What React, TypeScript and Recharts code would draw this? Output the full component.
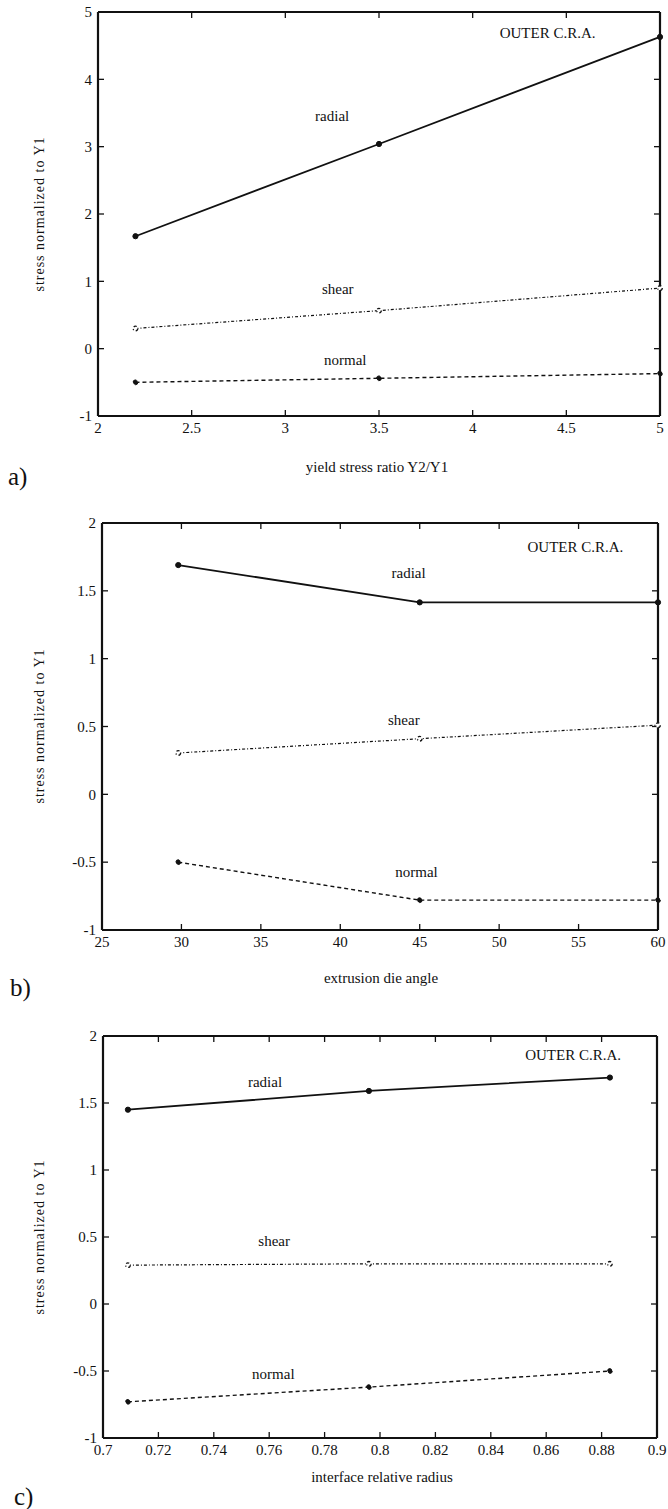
import { LineChart, Line, XAxis, YAxis, ReferenceDot } from "recharts";

// a) yield stress ratio
const yieldRatio = [2.2, 3.5, 5];
const radialA = [1.67, 3.04, 4.63];
const shearA = [0.3, 0.565, 0.9];
const normalA = [-0.5, -0.44, -0.37];

// b) die angle
const dieAngle = [29.8, 45, 60];
const radialB = [1.69, 1.415, 1.415];
const shearB = [0.305, 0.41, 0.51];
const normalB = [-0.5, -0.78, -0.78];

// c) interface radius
const relRadius = [0.709, 0.796, 0.883];
const radialC = [1.45, 1.59, 1.69];
const shearC = [0.29, 0.3, 0.3];
const normalC = [-0.73, -0.62, -0.5];

const xTicksA = [2, 2.5, 3, 3.5, 4, 4.5, 5];
const xTicksB = [25, 30, 35, 40, 45, 50, 55, 60];
const xTicksC = [0.7, 0.72, 0.74, 0.76, 0.78, 0.8, 0.82, 0.84, 0.86, 0.88, 0.9];
const yTicksA = [-1, 0, 1, 2, 3, 4, 5];
const yTicksBC = [-1, -0.5, 0, 0.5, 1, 1.5, 2];

const FONT = "'Liberation Serif', 'DejaVu Serif', serif";
const INK = "#111";

type Note = { text: string; x: number; y: number };

interface PanelProps {
  top: number;
  height: number;
  margin: { top: number; right: number; bottom: number; left: number };
  xs: number[];
  radial: number[];
  shear: number[];
  normal: number[];
  xDomain: [number, number];
  xTicks: number[];
  yDomain: [number, number];
  yTicks: number[];
  notes: Note[];
  xTitle: string;
  xTitlePos: [number, number];
  letter: string;
  letterPos: [number, number];
  yTitleY: number;
}

const NoteText = (text: string) => (p: any) => (
  <text
    x={p.cx}
    y={p.cy}
    textAnchor="middle"
    dominantBaseline="central"
    fontSize={15}
    fill={INK}
  >
    {text}
  </text>
);

const NoTick = () => <g />;

function Panel(props: PanelProps) {
  const data = props.xs.map((x, i) => ({
    x,
    radial: props.radial[i],
    shear: props.shear[i],
    normal: props.normal[i],
  }));
  const axisLine = { stroke: INK, strokeWidth: 2.2 };
  const tickLine = { stroke: INK, strokeWidth: 1.3 };
  const tickStyle = { fontSize: 15, fill: INK };
  return (
    <div
      style={{
        position: "absolute",
        left: 0,
        top: props.top,
        width: 668,
        height: props.height,
        fontFamily: FONT,
        color: INK,
      }}
    >
      <LineChart
        width={668}
        height={props.height}
        data={data}
        margin={props.margin}
        style={{ fontFamily: FONT }}
      >
        <XAxis
          xAxisId="b"
          dataKey="x"
          type="number"
          domain={props.xDomain}
          ticks={props.xTicks}
          height={30}
          tickSize={-6}
          tickMargin={12}
          axisLine={axisLine}
          tickLine={tickLine}
          tick={tickStyle}
          tickFormatter={(v: number) => String(v)}
        />
        {/* top frame with inward ticks */}
        <XAxis
          xAxisId="t"
          dataKey="x"
          orientation="top"
          type="number"
          domain={props.xDomain}
          ticks={props.xTicks}
          height={1}
          tickSize={-6}
          axisLine={axisLine}
          tickLine={tickLine}
          tick={NoTick}
        />
        <YAxis
          yAxisId="l"
          type="number"
          domain={props.yDomain}
          ticks={props.yTicks}
          width={50}
          tickSize={-6}
          tickMargin={12}
          axisLine={axisLine}
          tickLine={tickLine}
          tick={tickStyle}
          tickFormatter={(v: number) => String(v)}
        />
        {/* right frame with inward ticks */}
        <YAxis
          yAxisId="r"
          orientation="right"
          type="number"
          domain={props.yDomain}
          ticks={props.yTicks}
          width={1}
          tickSize={-6}
          axisLine={axisLine}
          tickLine={tickLine}
          tick={NoTick}
        />
        {/* invisible series so the top/right frame axes get drawn */}
        <Line
          xAxisId="t"
          yAxisId="r"
          dataKey="radial"
          stroke="none"
          dot={false}
          activeDot={false}
          isAnimationActive={false}
        />
        <Line
          xAxisId="b"
          yAxisId="l"
          dataKey="radial"
          stroke={INK}
          strokeWidth={1.8}
          dot={{ r: 2.6, fill: INK, stroke: INK, strokeWidth: 1 }}
          isAnimationActive={false}
        />
        <Line
          xAxisId="b"
          yAxisId="l"
          dataKey="shear"
          stroke={INK}
          strokeWidth={1.2}
          strokeDasharray="3 2 1 2"
          dot={{ r: 2.3, fill: "#fff", stroke: INK, strokeWidth: 1.3 }}
          isAnimationActive={false}
        />
        <Line
          xAxisId="b"
          yAxisId="l"
          dataKey="normal"
          stroke={INK}
          strokeWidth={1.4}
          strokeDasharray="4 3"
          dot={{ r: 2.4, fill: INK, stroke: INK, strokeWidth: 1 }}
          isAnimationActive={false}
        />
        {props.notes.map((n) => (
          <ReferenceDot
            key={n.text}
            xAxisId="b"
            yAxisId="l"
            x={n.x}
            y={n.y}
            r={0}
            ifOverflow="visible"
            shape={NoteText(n.text)}
          />
        ))}
      </LineChart>
      <div
        style={{
          position: "absolute",
          left: 40,
          top: props.yTitleY,
          transform: "translate(-50%, -50%) rotate(-90deg)",
          whiteSpace: "nowrap",
          fontSize: 14,
          letterSpacing: 1,
        }}
      >
        stress normalized to Y1
      </div>
      <div
        style={{
          position: "absolute",
          left: props.xTitlePos[0],
          top: props.xTitlePos[1],
          transform: "translate(-50%, -50%)",
          whiteSpace: "nowrap",
          fontSize: 15,
        }}
      >
        {props.xTitle}
      </div>
      <div
        style={{
          position: "absolute",
          left: props.letterPos[0],
          top: props.letterPos[1],
          transform: "translateY(-50%)",
          fontSize: 25,
        }}
      >
        {props.letter}
      </div>
    </div>
  );
}

export default function App() {
  return (
    <div style={{ position: "absolute", left: 0, top: 0, width: 668, height: 1509, background: "#fff", overflow: "hidden" }}>
      <Panel
        top={0}
        height={500}
        margin={{ top: 11, right: 7, bottom: 54, left: 48 }}
        xs={yieldRatio}
        radial={radialA}
        shear={shearA}
        normal={normalA}
        xDomain={[2, 5]}
        xTicks={xTicksA}
        yDomain={[-1, 5]}
        yTicks={yTicksA}
        notes={[
          { text: "OUTER C.R.A.", x: 4.4, y: 4.69 },
          { text: "radial", x: 3.25, y: 3.45 },
          { text: "shear", x: 3.28, y: 0.89 },
          { text: "normal", x: 3.32, y: -0.17 },
        ]}
        xTitle="yield stress ratio Y2/Y1"
        xTitlePos={[377, 467]}
        letter="a)"
        letterPos={[8, 477]}
        yTitleY={214}
      />
      <Panel
        top={500}
        height={500}
        margin={{ top: 22, right: 9, bottom: 40, left: 52 }}
        xs={dieAngle}
        radial={radialB}
        shear={shearB}
        normal={normalB}
        xDomain={[25, 60]}
        xTicks={xTicksB}
        yDomain={[-1, 2]}
        yTicks={yTicksBC}
        notes={[
          { text: "OUTER C.R.A.", x: 54.8, y: 1.825 },
          { text: "radial", x: 44.3, y: 1.63 },
          { text: "shear", x: 44.0, y: 0.55 },
          { text: "normal", x: 44.8, y: -0.57 },
        ]}
        xTitle="extrusion die angle"
        xTitlePos={[381, 478]}
        letter="b)"
        letterPos={[10, 488]}
        yTitleY={226}
      />
      <Panel
        top={1000}
        height={509}
        margin={{ top: 35, right: 10, bottom: 41, left: 53 }}
        xs={relRadius}
        radial={radialC}
        shear={shearC}
        normal={normalC}
        xDomain={[0.7, 0.9]}
        xTicks={xTicksC}
        yDomain={[-1, 2]}
        yTicks={yTicksBC}
        notes={[
          { text: "OUTER C.R.A.", x: 0.8697, y: 1.86 },
          { text: "radial", x: 0.7585, y: 1.66 },
          { text: "shear", x: 0.7618, y: 0.47 },
          { text: "normal", x: 0.7615, y: -0.52 },
        ]}
        xTitle="interface relative radius"
        xTitlePos={[382, 477]}
        letter="c)"
        letterPos={[14, 497]}
        yTitleY={237}
      />
    </div>
  );
}
